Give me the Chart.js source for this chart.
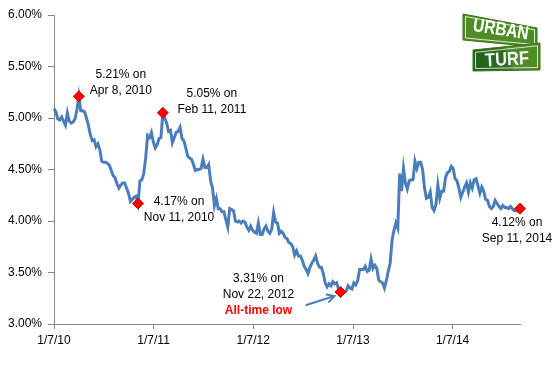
<!DOCTYPE html>
<html>
<head>
<meta charset="utf-8">
<script src="https://cdn.jsdelivr.net/npm/chart.js@4.4.1/dist/chart.umd.min.js"></script>
<style>
  html, body { margin: 0; padding: 0; background: #fff; }
</style>
</head>
<body>
<canvas id="rates" width="557" height="384"></canvas>
<script>
// 30-year fixed rate, one value per week starting Thursday 1/7/2010
const startDate = '2010-01-07';

const rates2010 = [5.09, 5.06, 4.99, 4.98, 5.01, 4.97, 4.93, 5.05, 4.97, 4.95, 4.96, 4.99, 5.08,
    5.21, 5.07, 5.07, 5.06, 5.00, 4.93, 4.84, 4.78, 4.79, 4.72, 4.75, 4.69, 4.58, 4.57, 4.57, 4.56,
    4.54, 4.49, 4.44, 4.42, 4.36, 4.32, 4.35, 4.37, 4.37, 4.32, 4.27, 4.19, 4.21, 4.23, 4.24, 4.17,
    4.39, 4.40, 4.46, 4.61, 4.83, 4.81, 4.86];
const rates2011 = [4.77, 4.71, 4.74, 4.80, 4.81, 5.05, 5.00, 4.95, 4.87, 4.88, 4.76, 4.81, 4.86,
    4.87, 4.91, 4.80, 4.78, 4.71, 4.63, 4.61, 4.60, 4.55, 4.49, 4.50, 4.50, 4.51, 4.60, 4.52, 4.52,
    4.55, 4.39, 4.32, 4.15, 4.22, 4.12, 4.12, 4.09, 4.09, 4.01, 3.94, 4.12, 4.11, 4.10, 4.00, 3.99,
    4.00, 3.98, 4.00, 3.99, 3.94, 3.91, 3.95];
const rates2012 = [3.91, 3.89, 3.88, 3.98, 3.87, 3.87, 3.92, 3.95, 3.90, 3.88, 3.92, 4.08, 3.99,
    3.98, 3.88, 3.90, 3.88, 3.84, 3.83, 3.79, 3.78, 3.75, 3.67, 3.71, 3.66, 3.66, 3.62, 3.56, 3.53,
    3.49, 3.55, 3.59, 3.62, 3.66, 3.59, 3.55, 3.55, 3.49, 3.40, 3.36, 3.39, 3.37, 3.41, 3.39, 3.40,
    3.34, 3.31, 3.32, 3.31, 3.32, 3.37, 3.35];
const rates2013 = [3.34, 3.40, 3.38, 3.42, 3.53, 3.53, 3.53, 3.56, 3.51, 3.52, 3.63, 3.54, 3.57,
    3.54, 3.43, 3.41, 3.40, 3.35, 3.42, 3.51, 3.59, 3.81, 3.91, 3.98, 3.93, 4.46, 4.29, 4.51, 4.37,
    4.31, 4.39, 4.40, 4.40, 4.58, 4.51, 4.57, 4.57, 4.50, 4.32, 4.22, 4.23, 4.28, 4.13, 4.10, 4.16,
    4.35, 4.22, 4.29, 4.29, 4.42, 4.47, 4.48];
const rates2014 = [4.53, 4.51, 4.41, 4.39, 4.32, 4.23, 4.28, 4.33, 4.37, 4.28, 4.37, 4.32, 4.40,
    4.41, 4.34, 4.27, 4.33, 4.29, 4.21, 4.20, 4.14, 4.12, 4.14, 4.20, 4.17, 4.14, 4.12, 4.15, 4.13,
    4.13, 4.12, 4.14, 4.12, 4.10, 4.10, 4.10, 4.12];

const tickDates = ['2010-01-07', '2011-01-07', '2012-01-07', '2013-01-07', '2014-01-07'];
const tickLabels = ['1/7/10', '1/7/11', '1/7/12', '1/7/13', '1/7/14'];

const noteDates = ['2010-04-08', '2010-11-11', '2011-02-11', '2012-11-22', '2014-09-11'];
const noteLines = [
    ['5.21% on', 'Apr 8, 2010'],
    ['4.17% on', 'Nov 11, 2010'],
    ['5.05% on', 'Feb 11, 2011'],
    ['3.31% on', 'Nov 22, 2012', 'All-time low'],
    ['4.12% on', 'Sep 11, 2014']
];

const rates = [...rates2010, ...rates2011, ...rates2012, ...rates2013, ...rates2014];

function daysFrom(d) {
    return Math.round((Date.parse(d) - Date.parse(startDate)) / 86400000);
}

const series = rates.map((v, i) => ({ x: i * 7, y: v }));
const notePoints = noteDates.map(d => {
    const w = Math.round(daysFrom(d) / 7);
    return { x: w * 7, y: rates[w] };
});

// where each note's text sits relative to its marker (px)
const noteOffsets = [
    { dx: 42, dy: -22 },
    { dx: 41, dy: -2 },
    { dx: 49, dy: -19 },
    { dx: -82, dy: -13 },
    { dx: -3, dy: 14 }
];

const lineBlue = '#4a7ebb';
const labelFont = '12px "Liberation Sans", Arial, sans-serif';

function drawLogo(ctx) {
    ctx.save();
    // top sign
    ctx.beginPath();
    ctx.moveTo(463, 14); ctx.lineTo(537, 28); ctx.lineTo(537, 47); ctx.lineTo(463, 40);
    ctx.closePath();
    ctx.fillStyle = '#4f8c28';
    ctx.fill();
    ctx.strokeStyle = '#3c7020';
    ctx.lineWidth = 1;
    ctx.stroke();
    ctx.beginPath();
    ctx.moveTo(465.5, 16.5); ctx.lineTo(534.5, 29.8); ctx.lineTo(534.5, 44.5); ctx.lineTo(465.5, 38);
    ctx.closePath();
    ctx.strokeStyle = 'rgba(235,245,225,0.9)';
    ctx.stroke();
    ctx.save();
    ctx.translate(501, 29);
    ctx.rotate(9 * Math.PI / 180);
    ctx.fillStyle = '#ffffff';
    ctx.font = 'bold 19px "Liberation Sans", Arial, sans-serif';
    ctx.textAlign = 'center';
    ctx.textBaseline = 'middle';
    ctx.fillText('URBAN', 0, 1, 56);
    ctx.restore();

    // bottom sign
    ctx.beginPath();
    ctx.moveTo(473, 50); ctx.lineTo(540, 43); ctx.lineTo(540, 70); ctx.lineTo(473, 71);
    ctx.closePath();
    const g = ctx.createLinearGradient(473, 70, 540, 45);
    g.addColorStop(0, '#22601a');
    g.addColorStop(0.5, '#2c6c1f');
    g.addColorStop(0.56, '#4f8c28');
    g.addColorStop(1, '#4f8c28');
    ctx.fillStyle = g;
    ctx.fill();
    ctx.strokeStyle = '#3c7020';
    ctx.stroke();
    ctx.beginPath();
    ctx.moveTo(475.5, 52.3); ctx.lineTo(537.5, 45.8); ctx.lineTo(537.5, 67.5); ctx.lineTo(475.5, 68.5);
    ctx.closePath();
    ctx.strokeStyle = 'rgba(235,245,225,0.85)';
    ctx.stroke();
    ctx.save();
    ctx.translate(507, 59);
    ctx.rotate(-3 * Math.PI / 180);
    ctx.fillStyle = '#f2f7fb';
    ctx.font = 'bold 19px "Liberation Sans", Arial, sans-serif';
    ctx.textAlign = 'center';
    ctx.textBaseline = 'middle';
    ctx.fillText('TURF', 0, 1, 44);
    ctx.restore();
    ctx.restore();
}

const notesPlugin = {
    id: 'notes',
    afterDatasetsDraw(chart) {
        const ctx = chart.ctx;
        const xs = chart.scales.x;
        const ys = chart.scales.y;
        ctx.save();
        ctx.textAlign = 'center';
        ctx.textBaseline = 'middle';
        notePoints.forEach((p, i) => {
            const px = xs.getPixelForValue(p.x);
            const py = ys.getPixelForValue(p.y);
            const off = noteOffsets[i];
            noteLines[i].forEach((txt, j) => {
                if (txt === 'All-time low') {
                    ctx.font = 'bold ' + labelFont;
                    ctx.fillStyle = '#ff0000';
                } else {
                    ctx.font = labelFont;
                    ctx.fillStyle = '#000000';
                }
                ctx.fillText(txt, px + off.dx, py + off.dy + j * 16);
            });
        });

        // arrow pointing at the all-time low
        const low = notePoints[3];
        const lx = xs.getPixelForValue(low.x);
        const ly = ys.getPixelForValue(low.y);
        const sx = lx - 34, sy = ly + 13;
        const ex = lx - 6, ey = ly + 4;
        const ang = Math.atan2(ey - sy, ex - sx);
        ctx.strokeStyle = lineBlue;
        ctx.lineWidth = 2;
        ctx.lineCap = 'round';
        ctx.beginPath();
        ctx.moveTo(sx, sy);
        ctx.lineTo(ex, ey);
        ctx.moveTo(ex - 8 * Math.cos(ang - 0.5), ey - 8 * Math.sin(ang - 0.5));
        ctx.lineTo(ex, ey);
        ctx.lineTo(ex - 8 * Math.cos(ang + 0.5), ey - 8 * Math.sin(ang + 0.5));
        ctx.stroke();
        ctx.restore();

        drawLogo(ctx);
    }
};

new Chart(document.getElementById('rates').getContext('2d'), {
    type: 'line',
    data: {
        datasets: [
            {
                data: notePoints,
                showLine: false,
                clip: false,
                pointStyle: 'rectRot',
                pointRadius: 5.5,
                pointBackgroundColor: '#ff0000',
                pointBorderColor: '#d40000',
                pointBorderWidth: 1,
                order: 1
            },
            {
                data: series,
                borderColor: lineBlue,
                borderWidth: 3,
                pointRadius: 0,
                tension: 0,
                clip: false,
                order: 2
            }
        ]
    },
    options: {
        responsive: false,
        animation: false,
        devicePixelRatio: 1,
        layout: { padding: { left: 0, right: 37, top: 15, bottom: 0 } },
        plugins: { legend: { display: false }, tooltip: { enabled: false } },
        scales: {
            x: {
                type: 'linear',
                min: 0,
                max: series[series.length - 1].x,
                afterBuildTicks: (scale) => {
                    scale.ticks = tickDates.map(d => ({ value: daysFrom(d) }));
                },
                afterFit: (scale) => { scale.height = 60; },
                ticks: {
                    autoSkip: false,
                    maxRotation: 0,
                    padding: 4,
                    color: '#000',
                    font: { family: '"Liberation Sans", Arial, sans-serif', size: 12 },
                    callback: (value, index) => tickLabels[index]
                },
                grid: { display: true, drawOnChartArea: false, drawTicks: true, tickLength: 5, color: '#868686' },
                border: { display: true, color: '#868686', width: 1 }
            },
            y: {
                min: 3,
                max: 6,
                afterFit: (scale) => { scale.width = 54; },
                ticks: {
                    stepSize: 0.5,
                    padding: 6,
                    color: '#000',
                    font: { family: '"Liberation Sans", Arial, sans-serif', size: 12 },
                    callback: (v) => v.toFixed(2) + '%'
                },
                grid: { display: true, drawOnChartArea: false, drawTicks: true, tickLength: 6, color: '#868686' },
                border: { display: true, color: '#868686', width: 1 }
            }
        }
    },
    plugins: [notesPlugin]
});
</script>
</body>
</html>
